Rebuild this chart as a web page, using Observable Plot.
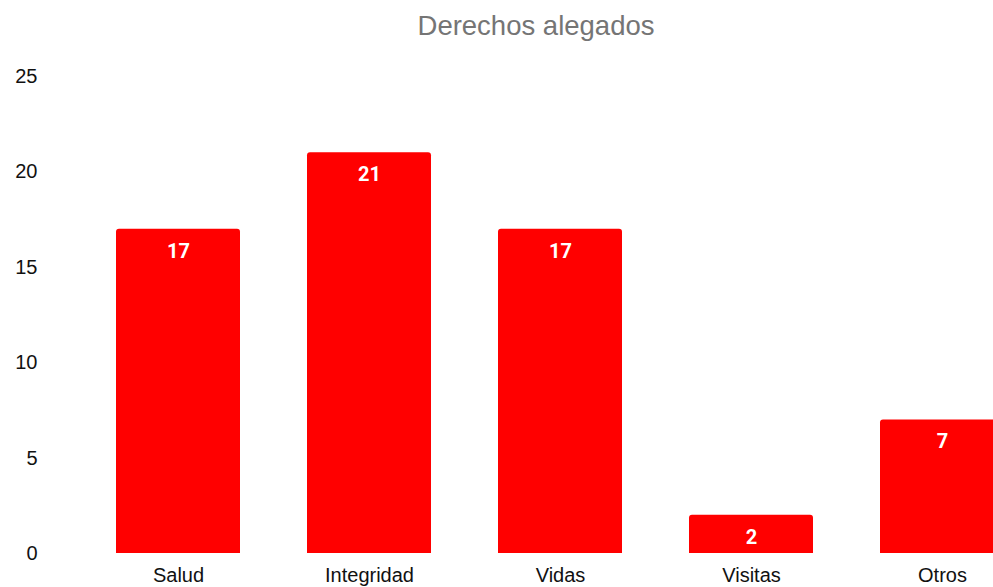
<!DOCTYPE html>
<html>
<head>
<meta charset="utf-8">
<script src="https://cdn.jsdelivr.net/npm/d3@7"></script>
<script src="https://cdn.jsdelivr.net/npm/@observablehq/plot@0.6"></script>
<style>
  html, body { margin: 0; padding: 0; background: #fff; overflow: hidden; width: 993px; height: 587px; }
  #title { height: 50px; width: 993px; position: relative; }
  #title span { position: absolute; left: 536px; top: 12px; transform: translateX(-50%);
    font-family: "Liberation Sans", Arial, sans-serif; font-size: 27.5px; line-height: 1; color: #757575; white-space: nowrap; }
</style>
</head>
<body>
<div id="title"><span>Derechos alegados</span></div>
<div id="chart"></div>
<script>
const categories = ["Salud", "Integridad", "Vidas", "Visitas", "Otros"];
const values = [17, 21, 17, 2, 7];
const yTicks = [0, 5, 10, 15, 20, 25];

const data = categories.map((c, i) => ({category: c, value: values[i]}));

const chart = Plot.plot({
  width: 993,
  height: 537,
  marginTop: 26,
  marginBottom: 34,
  marginLeft: 45,
  marginRight: 0,
  style: {fontFamily: "'Liberation Sans', Arial, sans-serif", fontSize: "20px", color: "#111", background: "#fff", overflow: "hidden"},
  x: {domain: categories, range: [82.5, 1037.5], paddingInner: 0.35, paddingOuter: 0.175, label: null},
  y: {domain: [0, 25], ticks: yTicks, label: null},
  marks: [
    Plot.axisY({ticks: yTicks, tickSize: 0, tickPadding: 8, label: null, fontSize: 20}),
    Plot.axisX({tickSize: 0, tickPadding: 14, label: null, fontSize: 20}),
    Plot.barY(data, {x: "category", y: "value", fill: "#ff0000", rx: 3}),
    Plot.barY(data, {x: "category", y1: 0, y2: d => d.value / 2, fill: "#ff0000"}),
    Plot.text(data, {x: "category", y: "value", text: d => String(d.value), dy: 22, fill: "#fff",
      fontWeight: "bold", fontSize: 20, fontFamily: "Roboto", lineAnchor: "middle"})
  ]
});
document.getElementById("chart").appendChild(chart);
</script>
</body>
</html>
